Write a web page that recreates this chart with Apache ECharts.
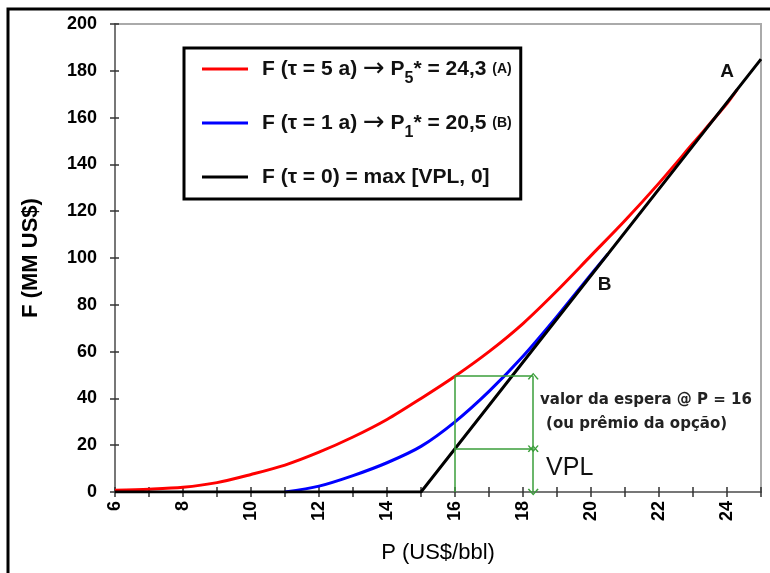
<!DOCTYPE html>
<html>
<head>
<meta charset="utf-8">
<script src="https://cdn.jsdelivr.net/npm/echarts@6/dist/echarts.min.js"></script>
<style>
  html, body { margin: 0; padding: 0; background: #fff; }
  #chart { width: 770px; height: 573px; }
</style>
</head>
<body>
<div id="chart"></div>
<script>
// prices (US$/bbl) and option values (MM US$)
const priceRed = [6, 7, 8, 9, 10, 11, 12, 13, 14, 15, 16, 17, 18, 19, 20, 21, 22, 23, 24, 24.3];
const valueRed = [0.8, 1.2, 2, 4, 7.5, 11.5, 17, 23.5, 31, 40, 49.5, 60, 72, 86, 101, 116, 132, 149, 166, 172];
const priceBlue = [11, 12, 13, 14, 15, 16, 17, 18, 19, 20, 20.5];
const valueBlue = [0, 2.5, 7, 12.5, 19.5, 30, 43, 58, 75, 93, 101.75];
const priceBlack = [6, 15, 25];
const valueBlack = [0, 0, 185];

// annotation at P = 16
const waitP = 16;
const waitTop = 49.5;   // F(tau=5) at P=16
const vplAt16 = 18.5;   // VPL at P=16
const arrowP = 18.3;

const legendNames = ['F5', 'F1', 'F0'];
const legendTexts = {
  F5: '{t|F (τ = 5 a) }{a|→}{t| P}{s|5}{t|* = 24,3 }{m|(A)}',
  F1: '{t|F (τ = 1 a) }{a|→}{t| P}{s|1}{t|* = 20,5 }{m|(B)}',
  F0: '{t|F (τ = 0) = max [VPL, 0]}{s| }'
};

const font = 'Liberation Sans, Arial, sans-serif';
const wideFont = 'DejaVu Sans, Verdana, sans-serif';
const green = '#3a9e3a';
const chevron = 'path://M0,10L5,0L10,10L8.8,11L5,3L1.2,11Z';

function zip(xs, ys) {
  return xs.map((x, i) => [x, ys[i]]);
}

const chart = echarts.init(document.getElementById('chart'));

const option = {
  animation: false,
  backgroundColor: '#fff',
  textStyle: { fontFamily: font },
  graphic: [{
    type: 'rect',
    silent: true,
    shape: { x: 8, y: 9, width: 800, height: 600 },
    style: { fill: 'none', stroke: '#000', lineWidth: 3 }
  }],
  grid: {
    left: 115, right: 9, top: 24, bottom: 81,
    show: true, borderColor: '#aaaaaa', borderWidth: 2
  },
  legend: {
    data: legendNames,
    orient: 'vertical',
    left: 184, top: 48,
    padding: [3, 9, 4, 18],
    itemGap: 18,
    itemWidth: 46, itemHeight: 3,
    icon: 'rect',
    borderColor: '#000', borderWidth: 3,
    backgroundColor: '#fff',
    formatter: (name) => legendTexts[name],
    textStyle: {
      padding: [0, 0, 0, 9],
      rich: {
        t: { fontSize: 21, fontWeight: 'bold', fontFamily: font, color: '#111', lineHeight: 34 },
        a: { fontSize: 26, fontFamily: wideFont, color: '#111', lineHeight: 34 },
        s: { fontSize: 16, fontWeight: 'bold', fontFamily: font, color: '#111', lineHeight: 14, padding: [20, 0, 0, 0] },
        m: { fontSize: 14, fontWeight: 'bold', fontFamily: font, color: '#111', lineHeight: 34 }
      }
    }
  },
  xAxis: [{
    type: 'value', min: 6, max: 25, interval: 1,
    name: 'P (US$/bbl)', nameLocation: 'middle', nameGap: 50,
    nameTextStyle: { fontSize: 22, color: '#000', fontFamily: font },
    axisLine: { lineStyle: { color: '#777', width: 2 } },
    axisTick: { length: 5, lineStyle: { color: '#333', width: 1.5 } },
    axisLabel: {
      rotate: 90, fontSize: 18, fontWeight: 'bold', color: '#000', margin: 9,
      formatter: (v) => (v % 2 === 0 ? String(v) : '')
    },
    splitLine: { show: false }
  }, {
    type: 'value', min: 6, max: 25, interval: 1, position: 'bottom',
    axisLine: { show: false },
    axisTick: { inside: true, length: 5, lineStyle: { color: '#333', width: 1.5 } },
    axisLabel: { show: false },
    splitLine: { show: false }
  }],
  yAxis: [{
    type: 'value', min: 0, max: 200, interval: 20,
    name: 'F (MM US$)', nameLocation: 'middle', nameGap: 73,
    nameTextStyle: { fontSize: 22, fontWeight: 'bold', color: '#000', fontFamily: font },
    axisLine: { show: true, lineStyle: { color: '#777', width: 2 } },
    axisTick: { show: true, length: 5, lineStyle: { color: '#333', width: 1.5 } },
    axisLabel: { fontSize: 18, fontWeight: 'bold', color: '#000', margin: 18 },
    splitLine: { show: false }
  }, {
    type: 'value', min: 0, max: 200, interval: 20, position: 'left',
    axisLine: { show: false },
    axisTick: { show: true, inside: true, length: 4, lineStyle: { color: '#333', width: 1.5 } },
    axisLabel: { show: false },
    splitLine: { show: false }
  }],
  series: [
    {
      name: 'F5', type: 'line', data: zip(priceRed, valueRed),
      smooth: 0.3, showSymbol: false, color: '#ff0000',
      lineStyle: { width: 3, color: '#ff0000' }
    },
    {
      name: 'F1', type: 'line', data: zip(priceBlue, valueBlue),
      smooth: 0.3, showSymbol: false, color: '#0000ff',
      lineStyle: { width: 3, color: '#0000ff' }
    },
    {
      name: 'F0', type: 'line', data: zip(priceBlack, valueBlack),
      showSymbol: false, color: '#000',
      lineStyle: { width: 3, color: '#000' }
    },
    {
      name: 'notes', type: 'line', data: [[waitP, 0]],
      showSymbol: false, lineStyle: { opacity: 0 }, silent: true,
      markLine: {
        silent: true, animation: false,
        label: { show: false },
        lineStyle: { color: green, width: 1.5, type: 'solid' },
        symbol: ['none', 'none'],
        data: [
          [{ coord: [waitP, 0] }, { coord: [waitP, waitTop] }],
          [{ coord: [waitP, waitTop] }, { coord: [arrowP, waitTop] }],
          [{ coord: [waitP, vplAt16] }, { coord: [arrowP, vplAt16] }],
          [{ coord: [arrowP, waitTop], symbol: chevron, symbolSize: [11, 7] },
           { coord: [arrowP, vplAt16], symbol: chevron, symbolSize: [11, 7] }],
          [{ coord: [arrowP, vplAt16], symbol: chevron, symbolSize: [11, 7] },
           { coord: [arrowP, 0], symbol: chevron, symbolSize: [11, 7] }]
        ]
      },
      markPoint: {
        silent: true, animation: false,
        symbol: 'circle', symbolSize: 0,
        data: [
          { coord: [24.0, 179.5], label: { formatter: 'A', position: 'inside', fontSize: 19, fontWeight: 'bold', color: '#111' } },
          { coord: [20.4, 88.5], label: { formatter: 'B', position: 'inside', fontSize: 19, fontWeight: 'bold', color: '#111' } },
          { coord: [18.5, 39.3], label: { formatter: 'valor da espera @ P = 16', position: 'right', distance: 0, fontSize: 15, fontWeight: 'bold', fontFamily: wideFont, color: '#222' } },
          { coord: [18.68, 29], label: { formatter: '(ou prêmio da opção)', position: 'right', distance: 0, fontSize: 15, fontWeight: 'bold', fontFamily: wideFont, color: '#222' } },
          { coord: [18.68, 10.3], label: { formatter: 'VPL', position: 'right', distance: 0, fontSize: 25, color: '#111' } }
        ]
      }
    }
  ]
};

chart.setOption(option);
</script>
</body>
</html>
